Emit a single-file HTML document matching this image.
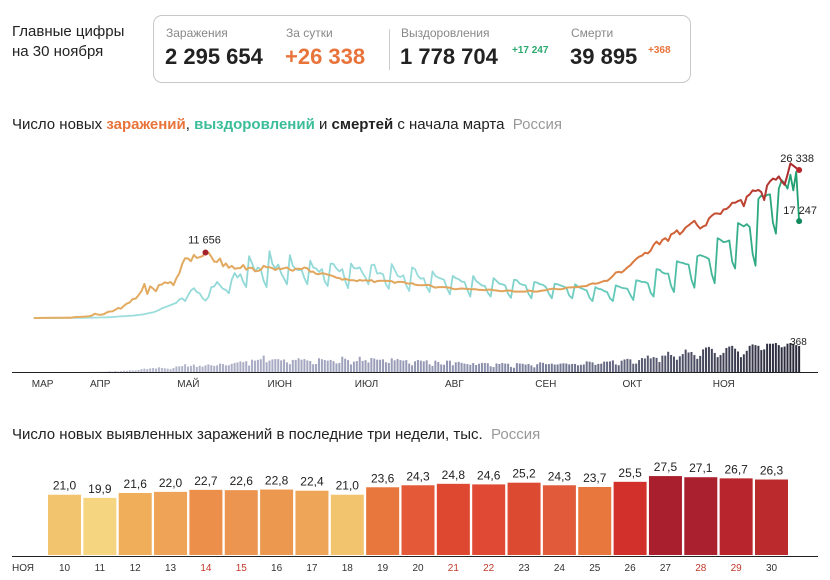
<!DOCTYPE html>
<html><head><meta charset="utf-8"><style>
body{margin:0;background:#fff;font-family:"Liberation Sans","Noto Sans CJK SC",sans-serif;}
#root{position:relative;width:830px;height:580px;overflow:hidden;}
.t{position:absolute;white-space:nowrap;}
</style></head><body><div id="root">
<div class="t" style="left:12px;top:22px;font-size:15px;line-height:20px;color:#222;">Главные цифры<br>на 30 ноября</div>
<div style="position:absolute;left:153px;top:15px;width:536px;height:66px;border:1px solid #c8c8c8;border-radius:9px;"></div>
<div style="position:absolute;left:389px;top:29px;width:1px;height:41px;background:#ccc;"></div>
<div class="t" style="left:166px;top:26px;font-size:12px;color:#888;">Заражения</div>
<div class="t" style="left:165px;top:44px;font-size:22px;font-weight:bold;color:#222;">2 295 654</div>
<div class="t" style="left:286px;top:26px;font-size:12px;color:#888;">За сутки</div>
<div class="t" style="left:285px;top:44px;font-size:22px;font-weight:bold;color:#e8743b;">+26 338</div>
<div class="t" style="left:401px;top:26px;font-size:12px;color:#888;">Выздоровления</div>
<div class="t" style="left:400px;top:44px;font-size:22px;font-weight:bold;color:#222;">1 778 704</div>
<div class="t" style="left:512px;top:45px;font-size:10px;font-weight:bold;color:#2aa86e;">+17 247</div>
<div class="t" style="left:571px;top:26px;font-size:12px;color:#888;">Смерти</div>
<div class="t" style="left:570px;top:44px;font-size:22px;font-weight:bold;color:#222;">39 895</div>
<div class="t" style="left:648px;top:45px;font-size:10px;font-weight:bold;color:#e8743b;">+368</div>
<div class="t" style="left:12px;top:116px;font-size:15px;color:#222;">Число новых <b style="color:#e8743b">заражений</b>, <b style="color:#3bbd9a">выздоровлений</b> и <b>смертей</b> с начала марта&nbsp; <span style="color:#999">Россия</span></div>
<div class="t" style="left:12px;top:426px;font-size:15px;color:#222;">Число новых выявленных заражений в последние три недели, тыс.&nbsp; <span style="color:#999">Россия</span></div>
<svg id="main" width="830" height="580" style="position:absolute;left:0;top:0;"></svg>
</div>
<script>
const cases=[2,4,6,10,14,20,33,52,54,53,61,57,71,57,163,182,196,228,270,302,
440,771,601,582,658,954,1154,1175,1459,1786,1667,2186,2558,2774,3388,3448,4070,4785,6060,4268,5642,5236,4774,5849,5966,6361,6198,6411,5841,7099,
7933,9623,10633,10581,10102,11231,10699,10817,11012,11656,11656,10899,10028,9974,10598,9200,9709,8926,9263,8764,8849,8894,9434,8599,8946,8915,8338,8371,8572,9268,9035,
9035,8863,8536,8831,8726,8855,8985,8595,8404,8779,8779,8706,8987,8835,8246,8248,7843,7790,7972,7889,7728,7600,7425,7176,7113,6800,7000,6800,6700,6700,
6550,6760,6630,6730,6610,6740,6370,6560,6630,6630,6610,6610,6540,6250,6420,6430,6400,6200,6100,6200,5940,5860,5810,5860,5880,5870,5600,5400,5500,5500,5500,
5450,5400,5200,5100,5200,5250,5200,5200,5100,5100,5100,5000,5000,4950,5050,5050,4950,4900,4800,4750,4850,4900,4850,4700,4700,4700,4700,4700,4900,4800,4700,
4700,4800,4900,4950,5100,5200,5200,5100,5100,5200,5400,5450,5450,5500,5500,5600,5650,5700,6000,6150,6100,6200,6400,6600,6600,7000,7500,8100,8200,8100,
8500,9000,9400,10000,10500,10900,11100,11600,11500,12000,13000,13600,13100,13900,14200,13700,14900,15100,15600,14900,15400,16100,16500,16900,17300,16500,15900,16300,16500,17700,18200,
18600,18600,18500,19300,19400,19800,20500,20500,20800,21000,19900,21600,22000,22700,22600,22800,22400,21000,23600,24300,24800,24600,25200,24300,23700,25500,27500,27100,26700,26338];
const recovered=[0,0,0,0,1,2,3,3,5,8,8,9,12,15,20,25,35,40,50,60,
60,70,80,100,110,130,150,180,220,260,300,320,350,400,430,480,550,600,700,800,900,1000,1200,1400,1700,1900,2100,2300,2500,2700,
3300,3500,3000,4000,4900,5300,4600,4400,3500,3100,3700,5500,5600,6400,5800,5200,5000,4400,6800,8000,7200,7800,6400,5500,11000,9700,8300,9000,8600,6600,5500,
11900,9600,8800,9500,8000,7000,6000,11200,9300,8700,8500,8600,7100,6000,10200,9000,8800,8200,8700,6500,5700,9700,9600,8800,8300,8700,6600,5300,9700,8900,
8800,9000,8000,7200,6000,9400,9500,7900,8000,7800,6000,5200,9600,8600,7500,7300,7600,5800,4800,9000,8700,7500,7000,7100,5500,4600,8300,7500,7200,7000,6800,
5300,4200,7500,7100,6900,6500,6400,5000,3800,7500,6600,6200,5800,5700,4500,3800,7100,6600,6100,6000,5800,4300,3600,6800,6700,6100,5900,5800,4300,3500,6400,
6300,6000,5900,5500,4300,3500,6100,6000,5800,5600,5400,4000,3500,6000,5600,5300,5100,4900,3600,3000,5500,5200,5100,4800,4600,3500,3000,5800,5600,5400,
5300,5200,4100,3200,6700,6600,6400,6400,6200,4500,3800,8700,8600,8100,7900,7900,5700,4600,10100,9900,9800,9600,9500,6800,5400,11000,11200,11000,10800,10500,7800,
6200,14200,13900,13500,13600,13800,10000,8800,16900,16600,16300,16700,16200,11500,9300,21200,21800,21500,21900,22000,17000,15000,23000,24500,24000,23000,25500,22700,26000,17247];
const deaths=[0,0,0,0,0,0,0,0,1,0,0,0,0,1,0,1,1,1,1,2,
2,2,4,4,4,5,11,5,12,7,13,18,16,24,22,22,28,41,48,42,51,57,50,66,58,53,47,40,56,79,
80,84,110,76,86,106,72,88,76,94,107,96,86,93,119,113,94,96,115,127,135,150,139,153,92,174,161,172,181,232,138,
162,178,182,182,165,177,136,111,171,171,194,174,182,164,155,110,113,194,181,169,161,171,153,121,128,216,188,168,107,147,
154,216,157,168,135,198,191,174,173,179,138,128,193,165,183,168,161,168,119,95,152,170,161,151,165,109,85,161,141,107,103,
161,161,95,137,144,130,119,112,101,127,99,117,129,128,124,81,70,121,114,128,119,117,72,60,125,120,117,105,114,93,66,
110,137,130,111,112,119,106,107,119,123,120,108,114,114,95,102,106,150,146,136,101,115,118,147,147,150,164,107,96,160,
177,186,179,117,119,169,197,191,232,192,211,200,141,232,232,286,241,219,173,222,253,317,276,283,239,186,228,320,346,355,327,
270,210,240,270,340,360,370,330,290,210,250,300,370,390,380,370,310,320,400,400,400,410,380,350,360,400,410,400,380,368];
const monthLabels=["МАР","АПР","МАЙ","ИЮН","ИЮЛ","АВГ","СЕН","ОКТ","НОЯ"];
const monthStartDay=[-20,0,30,61,91,122,153,183,214];
const barDays=["10","11","12","13","14","15","16","17","18","19","20","21","22","23","24","25","26","27","28","29","30"];
const barValues=[21.0,19.9,21.6,22.0,22.7,22.6,22.8,22.4,21.0,23.6,24.3,24.8,24.6,25.2,24.3,23.7,25.5,27.5,27.1,26.7,26.3];
const weekendDays=["14","15","21","22","28","29"];

const NS="http://www.w3.org/2000/svg";
const svg=document.getElementById('main');
function mk(tag,attrs,parent){const e=document.createElementNS(NS,tag);for(const k in attrs)e.setAttribute(k,attrs[k]);(parent||svg).appendChild(e);return e;}
const firstDay=-20;
const xDay=d=>92+2.91*d;
const yVal=v=>318-v*0.00562;
const yDeath=v=>372-v*0.0707;
const xi=i=>xDay(firstDay+i);

const defs=mk('defs',{});
const g1=mk('linearGradient',{id:'gc',gradientUnits:'userSpaceOnUse',x1:34,y1:0,x2:799,y2:0},defs);
[[0,'#e3ad62'],[0.7,'#e0a25a'],[0.8,'#d9703a'],[0.9,'#c24a32'],[1,'#a8282e']].forEach(s=>mk('stop',{offset:s[0],'stop-color':s[1]},g1));
const g2=mk('linearGradient',{id:'gr',gradientUnits:'userSpaceOnUse',x1:34,y1:0,x2:799,y2:0},defs);
[[0,'#a8e0e2'],[0.3,'#8fd8d6'],[0.5,'#9adcdc'],[0.8,'#5cc6b4'],[1,'#1f9e70']].forEach(s=>mk('stop',{offset:s[0],'stop-color':s[1]},g2));
const g3=mk('linearGradient',{id:'gd',gradientUnits:'userSpaceOnUse',x1:34,y1:0,x2:799,y2:0},defs);
[[0,'#c2c5d8'],[0.6,'#8c90ad'],[1,'#262838']].forEach(s=>mk('stop',{offset:s[0],'stop-color':s[1]},g3));

const db=mk('g',{});


deaths.forEach((v,i)=>{const r=mk('rect',{x:xi(i)-1,y:yDeath(v),width:2,height:372-yDeath(v),fill:'url(#gd)'},db);

});

const rl=mk('path',{d:recovered.map((v,i)=>(i?'L':'M')+xi(i).toFixed(1)+','+yVal(v).toFixed(1)).join(''),fill:'none',stroke:'url(#gr)','stroke-width':1.8,'stroke-linejoin':'round'});


const cl=mk('path',{d:cases.map((v,i)=>(i?'L':'M')+xi(i).toFixed(1)+','+yVal(v).toFixed(1)).join(''),fill:'none',stroke:'url(#gc)','stroke-width':2,'stroke-linejoin':'round'});



const ax=mk('line',{x1:12,x2:818,y1:372.5,y2:372.5,stroke:'#222','stroke-width':1});


monthLabels.forEach((m,i)=>{const t=mk('text',{x:xDay(monthStartDay[i])-2,y:387,'font-size':10,fill:'#333'});t.textContent=m;

});

let pk=0;cases.forEach((v,i)=>{if(v>cases[pk])pk=i;});
let pk1=0;for(let i=0;i<120;i++)if(cases[i]>cases[pk1])pk1=i;
const last=cases.length-1;
function dot(x,y,c,name){const e=mk('circle',{cx:x,cy:y,r:3,fill:c});}
function lab(x,y,s,name){const e=mk('text',{x:x,y:y,'font-size':11,fill:'#222','text-anchor':'middle'});e.textContent=s;}
const fmt=v=>String(v).replace(/\B(?=(\d{3})+(?!\d))/g,' ');
dot(xi(pk1),yVal(cases[pk1]),'#a3222c','may-peak-dot');
lab(xi(pk1)-1,yVal(cases[pk1])-9,fmt(cases[pk1]),'may-peak-label');
dot(xi(last),yVal(cases[last]),'#b8262c','cases-end-dot');
lab(xi(last)-2,yVal(cases[last])-8,fmt(cases[last]),'cases-end-label');
dot(xi(last),yVal(recovered[last]),'#138a5e','recoveries-end-dot');
lab(xi(last)+1,yVal(recovered[last])-7,fmt(recovered[last]),'recoveries-end-label');
const dl=mk('text',{x:xi(last)-9,y:yDeath(deaths[last])-1,'font-size':10,fill:'#222'});dl.textContent=deaths[last];



// bottom bar chart
const colors=['#f2c46e','#f5d57f','#f0ad5a','#efa357','#ec8f4b','#ec9550','#ec984f','#efa557','#f2c46e','#e8773e','#e45a38','#de4830','#e04a35','#dd4a32','#e15b3a','#e8773e','#d1302b','#a91f2e','#ab202e','#b9252d','#bb2a2c'];
const bx=i=>48+35.35*i;
const by=v=>555-v*2.87;
const bg=mk('g',{});


barValues.forEach((v,i)=>{
const r=mk('rect',{x:bx(i),y:by(v),width:33,height:555-by(v),fill:colors[i%colors.length]},bg);


const t=mk('text',{x:bx(i)+16.5,y:by(v)-5,'font-size':12,fill:'#222','text-anchor':'middle'},bg);t.textContent=v.toFixed(1).replace('.',',');


const d=mk('text',{x:bx(i)+16.5,y:571,'font-size':10,fill:weekendDays.includes(barDays[i])?'#c0392b':'#333','text-anchor':'middle'},bg);d.textContent=barDays[i];


});
const ax2=mk('line',{x1:12,x2:818,y1:556.5,y2:556.5,stroke:'#222','stroke-width':1});


const nt=mk('text',{x:12,y:571,'font-size':10,fill:'#333'});nt.textContent='НОЯ';


</script></body></html>
